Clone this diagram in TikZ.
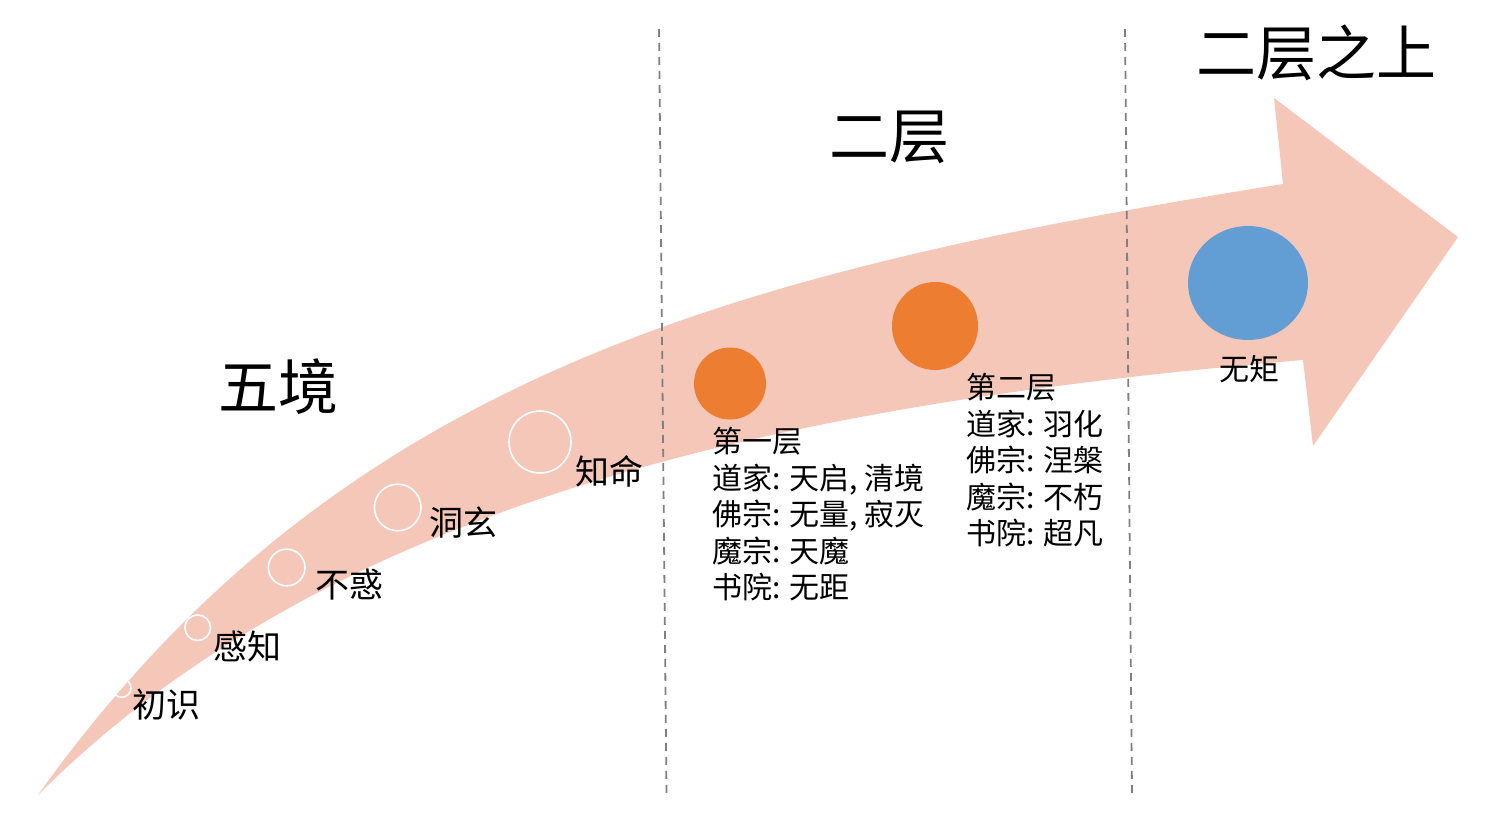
\documentclass[tikz,border=0pt]{standalone}
\usepackage{fontspec}
\setmainfont{Noto Sans CJK SC}
\usetikzlibrary{shapes.geometric}
\definecolor{arrowpink}{RGB}{244,199,184}
\definecolor{accorange}{RGB}{237,125,49}
\definecolor{accblue}{RGB}{98,157,211}
\definecolor{dashgray}{RGB}{128,128,128}
\begin{document}
\begin{tikzpicture}[x=1pt,y=-1pt,
  ring/.style={circle,draw=white,line width=1.6pt,inner sep=0pt},
  dot/.style={ellipse,inner sep=0pt,draw=none},
  stage/.style={anchor=west,inner sep=0pt,font=\fontsize{34}{40}\selectfont},
  big/.style={inner sep=0pt,font=\fontsize{60}{70}\selectfont},
  info/.style={anchor=north west,inner sep=0pt,align=left,font=\fontsize{30}{36.5}\selectfont},
  divider/.style={draw=dashgray,line width=1.8pt,dash pattern=on 8pt off 6pt}]
\useasboundingbox (0,0) rectangle (1510,816);
% big curved arrow
\fill[arrowpink] (38,795) .. controls (338,375) and (733,272) .. (1283,184)
  -- (1274,98) -- (1458,237) -- (1313,446) -- (1303,360)
  .. controls (803,402.5) and (338,495) .. (38,795) -- cycle;
% dividers
\coordinate (d1t) at (659,29);
\coordinate (d1b) at (666.5,793);
\coordinate (d2t) at (1125,29);
\coordinate (d2b) at (1132,793);
\draw[divider] (d1t) -- (d1b);
\draw[divider] (d2t) -- (d2b);
% stage rings
\node[ring,minimum size=18.6pt] (r1) at (121.7,688) {};
\node[ring,minimum size=25.6pt] (r2) at (197.7,627.7) {};
\node[ring,minimum size=36.6pt] (r3) at (286.7,567.5) {};
\node[ring,minimum size=46.6pt] (r4) at (397.7,507.5) {};
\node[ring,minimum size=62pt] (r5) at (540,442) {};
% stage labels
\node[stage] (l1) at (132,705) {初识};
\node[stage] (l2) at (213,646) {感知};
\node[stage] (l3) at (315,585) {不惑};
\node[stage] (l4) at (429,523) {洞玄};
\node[stage] (l5) at (575,471) {知命};
% filled dots
\node[dot,fill=accorange,minimum width=72pt,minimum height=72pt] (o1) at (730,383.5) {};
\node[dot,fill=accorange,minimum width=86pt,minimum height=88pt] (o2) at (935,326) {};
\node[dot,fill=accblue,minimum width=120pt,minimum height=114pt] (b1) at (1248,283) {};
% section titles
\node[big] (t1) at (278,387) {五境};
\node[big] (t2) at (889,137) {二层};
\node[big] (t3) at (1316,53) {二层之上};
% info blocks
\node[info] (i1) at (712,427) {第一层\\道家: 天启, 清境\\佛宗: 无量, 寂灭\\魔宗: 天魔\\书院: 无距};
\node[info] (i2) at (966,373) {第二层\\道家: 羽化\\佛宗: 涅槃\\魔宗: 不朽\\书院: 超凡};
\node[inner sep=0pt,font=\fontsize{30}{36}\selectfont] (w1) at (1249,369) {无矩};
\end{tikzpicture}
\end{document}
